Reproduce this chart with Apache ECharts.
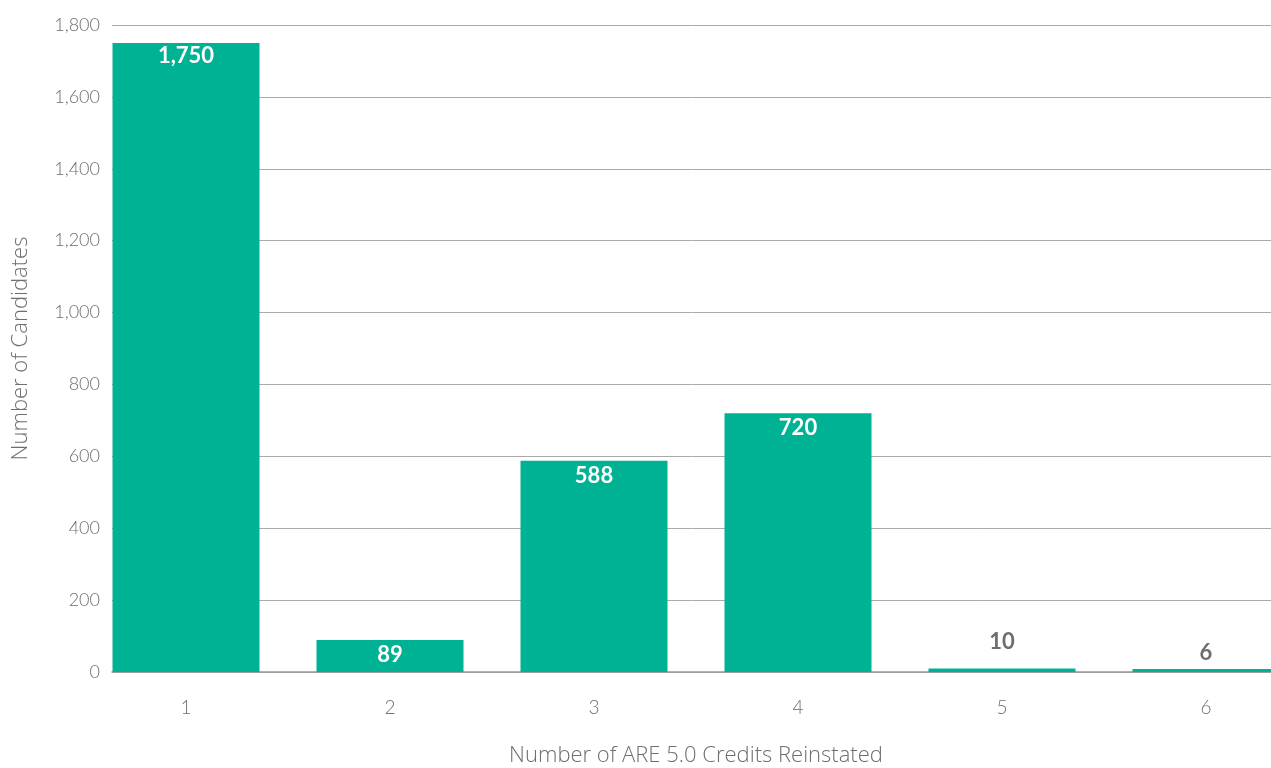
<!DOCTYPE html>
<html><head><meta charset="utf-8">
<script src="https://cdn.jsdelivr.net/npm/echarts@6/dist/echarts.min.js"></script>
<style>html,body{margin:0;padding:0;background:#fff}#c{width:1271px;height:768px}</style>
</head><body><div id="c"></div>
<script>
var categories = ['1','2','3','4','5','6'];
var values = [1750, 89, 588, 720, 10, 6];
var yTicks = [0,200,400,600,800,1000,1200,1400,1600,1800];
var xTitle = 'Number of ARE 5.0 Credits Reinstated';
var yTitle = 'Number of Candidates';

var font = 'Lato, "Open Sans", sans-serif';
var titleFont = '"Open Sans", Lato, sans-serif';
var data = values.map(function(v, i){
  var inside = v > 50;
  return {
    value: v,
    label: inside ? {position:'insideTop', distance:(i === 0 ? 2 : 4), color:'#fff'}
                  : {position:'top', distance: (i === 4 ? 15 : 5), color:'#6d6e71'}
  };
});
var chart = echarts.init(document.getElementById('c'));
chart.setOption({
  animation:false,
  grid:[
    {left:112, right:0, top:25, bottom:96, containLabel:false, outerBoundsMode:'none'},
    {left:84, right:-37, top:25, bottom:96, containLabel:false, outerBoundsMode:'none'}
  ],
  xAxis:[
    {gridIndex:0, type:'category', data:categories,
     axisLine:{show:true, lineStyle:{color:'#999', width:1.5}}, axisTick:{show:false}, axisLabel:{show:false}},
    {gridIndex:1, type:'category', data:categories,
     axisLine:{show:false}, axisTick:{show:false},
     axisLabel:{margin:26, color:'#6d6e71', fontSize:19, fontFamily:font, fontWeight:300},
     name:xTitle, nameLocation:'middle', nameGap:73,
     nameTextStyle:{color:'#6d6e71', fontSize:22, fontFamily:titleFont, fontWeight:300}},
  ],
  yAxis:[
    {gridIndex:0, type:'value', min:yTicks[0], max:yTicks[yTicks.length-1], interval:200,
     axisLine:{show:false}, axisTick:{show:false},
     axisLabel:{margin:12, color:'#6d6e71', fontSize:18, fontFamily:font, fontWeight:300,
       formatter:function(v){return v.toLocaleString('en-US');}},
     splitLine:{lineStyle:{color:'#aaaaaa', width:1}},
     name:yTitle, nameLocation:'middle', nameGap:80,
     nameTextStyle:{color:'#6d6e71', fontSize:22, fontFamily:titleFont, fontWeight:300}},
    {gridIndex:1, type:'value', min:0, max:1800, show:false}
  ],
  series:[{
    type:'bar', xAxisIndex:1, yAxisIndex:1, data:data,
    barWidth:147, barMinHeight:3,
    itemStyle:{color:'#00b294'},
    label:{show:true, fontSize:22, fontWeight:'bold', fontFamily:font,
      formatter:function(p){return p.value.toLocaleString('en-US');}}
  }]
});
</script></body></html>
